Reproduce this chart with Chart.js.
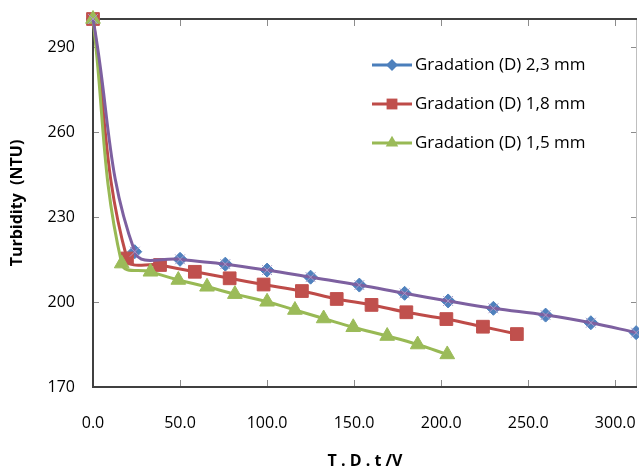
<!DOCTYPE html>
<html>
<head>
<meta charset="utf-8">
<script src="https://cdn.jsdelivr.net/npm/chart.js"></script>
<style>
  html, body { margin: 0; padding: 0; background: #fff; }
  #wrap { width: 639px; height: 472px; }
</style>
</head>
<body>
<div id="wrap"><canvas id="chart" width="639" height="472"></canvas></div>
<script>
// values
const xBlue = [0, 24, 50, 76, 100, 125, 153, 179, 204, 230, 260, 286, 312];
const yBlue = [300, 217.8, 215.1, 213.4, 211.3, 208.8, 206, 203.1, 200.4, 197.8, 195.4, 192.7, 189.2];
const xRed = [0, 19.5, 38.5, 58.5, 78.5, 98, 120, 140, 160, 180, 203, 224, 243.5];
const yRed = [300, 215.4, 213.1, 210.7, 208.4, 206.2, 203.9, 201.1, 199, 196.4, 194, 191.3, 188.7];
const xGreen = [0, 16.5, 33, 49, 65.5, 81.5, 100, 116, 132.5, 149.5, 169, 186.5, 203.5];
const yGreen = [300, 213.6, 210.7, 207.8, 205.4, 202.8, 200.1, 197.2, 194.2, 191.1, 188, 185, 181.5];

const seriesNames = ['Gradation (D) 2,3 mm', 'Gradation (D) 1,8 mm', 'Gradation (D) 1,5 mm'];
const xTicks = [0, 50, 100, 150, 200, 250, 300];
const yTicks = [170, 200, 230, 260, 290];

const toPoints = (xs, ys) => xs.map((x, i) => ({ x: x, y: ys[i] }));

const fontFamily = '"Open Sans", "DejaVu Sans", sans-serif';

// frame around the plot with small inward ticks on every side
const framePlugin = {
    id: 'frame',
    beforeDatasetsDraw(chart) {
        const { ctx, chartArea: a, scales } = chart;
        ctx.save();
        ctx.strokeStyle = '#8c8c8c';
        ctx.lineWidth = 1;
        ctx.beginPath();
        xTicks.forEach(v => {
            const px = Math.round(scales.x.getPixelForValue(v)) + 0.5;
            ctx.moveTo(px, a.bottom); ctx.lineTo(px, a.bottom - 7);
            ctx.moveTo(px, a.top); ctx.lineTo(px, a.top + 7);
        });
        yTicks.forEach(v => {
            const py = Math.round(scales.y.getPixelForValue(v)) + 0.5;
            ctx.moveTo(a.left, py); ctx.lineTo(a.left + 6, py);
            ctx.moveTo(a.right, py); ctx.lineTo(a.right - 6, py);
        });
        ctx.stroke();

        ctx.strokeStyle = '#bfbfbf';
        ctx.beginPath();
        ctx.moveTo(a.right - 0.5, a.top); ctx.lineTo(a.right - 0.5, a.bottom);
        ctx.stroke();

        ctx.strokeStyle = '#404040';
        ctx.lineWidth = 2;
        ctx.beginPath();
        ctx.moveTo(a.right, a.top);
        ctx.lineTo(a.left, a.top);
        ctx.lineTo(a.left, a.bottom);
        ctx.lineTo(a.right, a.bottom);
        ctx.stroke();
        ctx.restore();
    }
};

// Excel style legend: line with marker in the middle
function drawMarker(ctx, style, x, y, r, color) {
    ctx.fillStyle = color;
    ctx.beginPath();
    if (style === 'rectRot') {
        ctx.moveTo(x, y - r); ctx.lineTo(x + r, y); ctx.lineTo(x, y + r); ctx.lineTo(x - r, y);
    } else if (style === 'rect') {
        const s = r * Math.SQRT1_2;
        ctx.rect(x - s, y - s, 2 * s, 2 * s);
    } else {
        ctx.moveTo(x, y - r);
        ctx.lineTo(x + r * Math.sin(Math.PI / 3), y + r / 2);
        ctx.lineTo(x - r * Math.sin(Math.PI / 3), y + r / 2);
    }
    ctx.closePath();
    ctx.fill();
}

const legendPlugin = {
    id: 'excelLegend',
    afterDraw(chart) {
        const { ctx, chartArea: a } = chart;
        const items = [3, 2, 1];
        const x0 = a.left + 279;
        ctx.save();
        items.forEach((di, i) => {
            const ds = chart.data.datasets[di];
            const y = a.top + 46 + i * 39;
            ctx.strokeStyle = ds.borderColor;
            ctx.lineWidth = 3;
            ctx.beginPath();
            ctx.moveTo(x0, y); ctx.lineTo(x0 + 40, y);
            ctx.stroke();
            drawMarker(ctx, ds.pointStyle, x0 + 20, y, ds.pointRadius * 0.85, ds.pointBackgroundColor);
            ctx.fillStyle = '#000';
            ctx.font = '17px ' + fontFamily;
            ctx.textBaseline = 'middle';
            ctx.fillText(ds.label, x0 + 43, y);
        });
        ctx.restore();
    }
};

// keep the plot box exactly where the reference has it
const noEdgePadding = s => {
    s.paddingTop = 0; s.paddingBottom = 0; s.paddingLeft = 0; s.paddingRight = 0;
};

// first dataset in the list is drawn on top
const ctx = document.getElementById('chart').getContext('2d');
const chart = new Chart(ctx, {
    type: 'line',
    data: {
        datasets: [
            {
                label: 'overlay',
                data: toPoints(xBlue, yBlue),
                borderColor: '#7d60a0',
                borderWidth: 3,
                pointStyle: 'crossRot',
                pointRadius: 7,
                pointBorderColor: '#a898c8',
                pointBorderWidth: 1,
                tension: 0.4,
                clip: false
            },
            {
                label: seriesNames[2],
                data: toPoints(xGreen, yGreen),
                borderColor: '#98b954',
                borderWidth: 3,
                pointStyle: 'triangle',
                pointRadius: 8.5,
                pointBackgroundColor: '#9bbb59',
                pointBorderColor: '#9bbb59',
                pointBorderWidth: 1,
                tension: 0.4,
                clip: false
            },
            {
                label: seriesNames[1],
                data: toPoints(xRed, yRed),
                borderColor: '#be4b48',
                borderWidth: 3,
                pointStyle: 'rect',
                pointRadius: 9,
                pointBackgroundColor: '#c0504d',
                pointBorderColor: '#c0504d',
                pointBorderWidth: 1,
                tension: 0.4,
                clip: false
            },
            {
                label: seriesNames[0],
                data: toPoints(xBlue, yBlue),
                borderColor: '#4a7ebb',
                segment: { borderColor: 'transparent' },
                borderWidth: 3,
                pointStyle: 'rectRot',
                pointRadius: 7,
                pointBackgroundColor: '#4f81bd',
                pointBorderColor: '#4f81bd',
                pointBorderWidth: 1,
                tension: 0.4,
                clip: false
            }
        ]
    },
    options: {
        responsive: false,
        animation: false,
        layout: { autoPadding: false, padding: { top: 19, right: 2, left: 0, bottom: 0 } },
        plugins: {
            legend: { display: false },
            tooltip: { enabled: false }
        },
        scales: {
            x: {
                type: 'linear',
                min: 0,
                max: 312.5,
                afterBuildTicks: s => { s.ticks = xTicks.map(v => ({ value: v })); },
                afterFit: s => { s.height = 85; noEdgePadding(s); },
                grid: { display: false, drawTicks: false },
                border: { display: false },
                ticks: {
                    padding: 27,
                    color: '#000',
                    font: { family: fontFamily, size: 16 },
                    maxRotation: 0,
                    callback: v => Number(v).toFixed(1)
                },
                title: {
                    display: true,
                    text: 'T . D . t /V',
                    color: '#000',
                    font: { family: fontFamily, size: 16, weight: 'bold' },
                    padding: { top: 0, bottom: 1 }
                }
            },
            y: {
                min: 170,
                max: 300,
                afterBuildTicks: s => { s.ticks = yTicks.map(v => ({ value: v })); },
                afterFit: s => { s.width = 93; noEdgePadding(s); },
                grid: { display: false, drawTicks: false },
                border: { display: false },
                ticks: {
                    padding: 18,
                    color: '#000',
                    font: { family: fontFamily, size: 16 }
                },
                title: {
                    display: true,
                    text: 'Turbidity  (NTU)',
                    color: '#000',
                    font: { family: fontFamily, size: 16, weight: 'bold' },
                    padding: { top: 8, bottom: 0 }
                }
            }
        }
    },
    plugins: [framePlugin, legendPlugin]
});
</script>
</body>
</html>
